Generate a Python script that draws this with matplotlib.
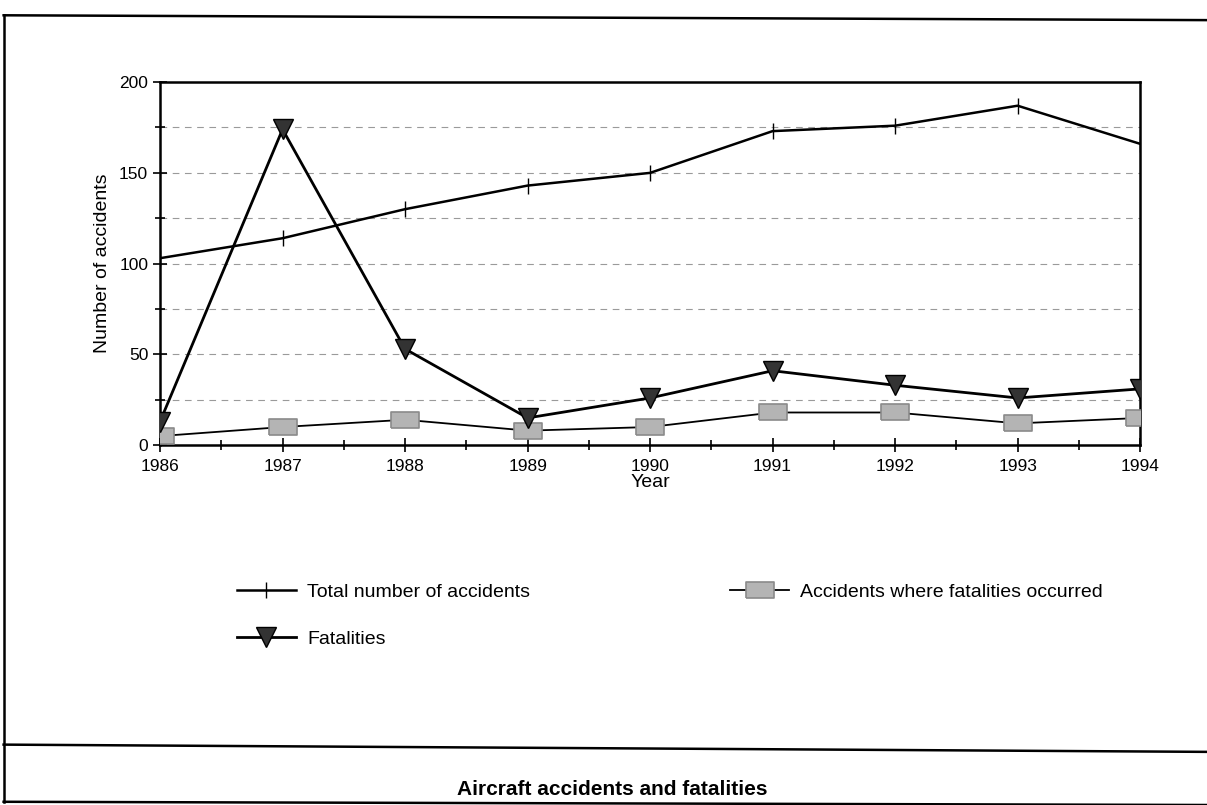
import numpy as np
import matplotlib
matplotlib.use("Agg")
import matplotlib.pyplot as plt
from matplotlib.lines import Line2D

plt.rcParams["font.family"] = ["Liberation Sans", "DejaVu Sans"]

years = [1986, 1987, 1988, 1989, 1990, 1991, 1992, 1993, 1994]
total_accidents = [103, 114, 130, 143, 150, 173, 176, 187, 166]
fatalities = [13, 174, 53, 15, 26, 41, 33, 26, 31]
fatal_accidents = [5, 10, 14, 8, 10, 18, 18, 12, 15]

fig = plt.figure(figsize=(12.07, 8.05), dpi=100)
ax = fig.add_axes([0.1326, 0.447, 0.812, 0.451])

# wide rectangle marker for the "fatal accidents" series
rect = [(-1, -0.55), (1, -0.55), (1, 0.55), (-1, 0.55), (-1, -0.55)]

ax.plot(years, total_accidents, color="black", lw=1.8, marker="|", ms=12,
        mew=1.0, label="Total number of accidents", zorder=3)
ax.plot(years, fatalities, color="black", lw=2.0, marker="v", ms=14,
        mfc="#333333", mec="black", label="Fatalities", zorder=4)
ax.plot(years, fatal_accidents, color="black", lw=1.3, marker=rect, ms=20,
        mfc="#b4b4b4", mec="#8a8a8a", mew=1.2,
        label="Accidents where fatalities occurred", zorder=3)

ax.set_xlim(1986, 1994)
ax.set_ylim(0, 200)
ax.set_xticks(years)
ax.set_xticks(np.arange(1986.5, 1994, 1.0), minor=True)
ax.set_yticks([0, 50, 100, 150, 200])
ax.set_yticks([25, 75, 125, 175], minor=True)
ax.tick_params(axis="both", which="both", direction="inout", width=1.2,
               labelsize=12.5)
ax.tick_params(axis="both", which="major", length=10)
ax.tick_params(axis="both", which="minor", length=7)
ax.tick_params(axis="x", pad=5)

for v in range(25, 200, 25):
    ax.axhline(v, color="#9a9a9a", lw=0.8, ls=(0, (6, 5)), zorder=1)

for sp in ax.spines.values():
    sp.set_linewidth(1.8)

ax.set_xlabel("Year", fontsize=14, labelpad=0)
ax.set_ylabel("Number of accidents", fontsize=14, labelpad=6)

fig.legend(loc="upper left", bbox_to_anchor=(0.182, 0.297), ncol=2,
           frameon=False, fontsize=14, handlelength=3.0, handletextpad=0.6,
           columnspacing=10.3, labelspacing=1.5, numpoints=1)

# outer frame and title strip
fig.add_artist(Line2D([0.003, 1.0], [0.981, 0.975], color="black", lw=1.8))
fig.add_artist(Line2D([0.003, 0.003], [0.981, 0.004], color="black", lw=1.8))
fig.add_artist(Line2D([0.003, 1.0], [0.075, 0.066], color="black", lw=1.8))
fig.add_artist(Line2D([0.003, 1.0], [0.004, 0.0], color="black", lw=1.8))
fig.text(0.507, 0.008, "Aircraft accidents and fatalities", ha="center",
         va="bottom", fontsize=15, fontweight="bold")

fig.savefig("out.png", dpi=100)
